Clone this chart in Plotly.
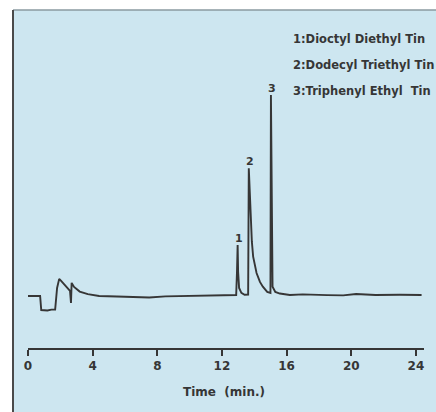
import plotly.graph_objects as go

# Chromatogram trace (time in minutes, detector response in % of peak 3)
time_min = [0.00, 0.75, 0.82, 1.20, 1.45, 1.68, 1.80, 1.93, 2.05, 2.60, 2.66, 2.70, 2.85,
            3.20, 3.70, 4.40, 5.50, 6.50, 7.50, 8.50, 10.0, 11.5, 12.88, 12.93, 12.97,
            13.00, 13.06, 13.20, 13.40, 13.62, 13.66, 13.72, 13.77, 13.85, 13.93, 14.14,
            14.35, 14.53, 14.80, 15.00, 15.03, 15.08, 15.13, 15.30, 15.58, 16.20, 17.0,
            18.5, 19.5, 20.3, 21.5, 23.0, 24.35]
signal = [0.0, 0.0, -7.0, -7.2, -6.8, -6.8, 4.0, 8.5, 7.5, 2.5, -3.5, 6.5, 4.5,
          2.2, 0.9, 0.0, -0.3, -0.4, -0.8, -0.2, 0.0, 0.3, 0.5, 12.0, 25.4,
          12.0, 4.0, 1.5, 0.6, 0.7, 63.5, 52.0, 37.8, 27.0, 19.6, 11.4,
          7.0, 4.6, 2.0, 1.5, 100.0, 30.0, 4.6, 2.0, 1.2, 0.5, 0.8,
          0.4, 0.3, 1.0, 0.5, 0.6, 0.5]

peak_labels = ["1", "2", "3"]
peak_times = [12.97, 13.66, 15.03]
peak_heights = [25.4, 63.5, 100.0]

legend_lines = ["1:Dioctyl Diethyl Tin", "2:Dodecyl Triethyl Tin", "3:Triphenyl Ethyl  Tin"]
tick_vals = [0, 4, 8, 12, 16, 20, 24]
tick_text = ["0", "4", "8", "12", "16", "20", "24"]

BG = "#cde6f0"
INK = "#363636"
FONT = "DejaVu Sans"

fig = go.Figure()
fig.add_trace(go.Scatter(x=time_min, y=signal, mode="lines",
                         line=dict(color=INK, width=1.9), hoverinfo="skip",
                         showlegend=False))

W, H = 436, 412
ml, mr, mt, mb = 28, 12, 10, 64
pw, ph = W - ml - mr, H - mt - mb

def px_to_paper_x(px):
    return (px - ml) / pw

def px_to_paper_y(py):
    return (H - mb - py) / ph

# blue panel behind the chart
fig.add_shape(type="rect", xref="paper", yref="paper",
              x0=px_to_paper_x(13), x1=px_to_paper_x(445),
              y0=px_to_paper_y(420), y1=px_to_paper_y(10),
              fillcolor=BG, line=dict(width=0), layer="below")
fig.add_shape(type="line", xref="paper", yref="paper",
              x0=px_to_paper_x(13), x1=px_to_paper_x(445),
              y0=px_to_paper_y(10), y1=px_to_paper_y(10),
              line=dict(color="#8a9aa0", width=1.5), layer="below")
fig.add_shape(type="line", xref="paper", yref="paper",
              x0=px_to_paper_x(13), x1=px_to_paper_x(13),
              y0=px_to_paper_y(10), y1=px_to_paper_y(420),
              line=dict(color="#4a4a4a", width=2), layer="below")

for lab, t, h in zip(peak_labels, peak_times, peak_heights):
    fig.add_annotation(x=t, y=h, xref="x", yref="y", text=f"<b>{lab}</b>",
                       showarrow=False, yanchor="bottom", yshift=-2, xshift=1,
                       font=dict(family=FONT, size=11, color=INK))

for i, line in enumerate(legend_lines):
    fig.add_annotation(x=px_to_paper_x(291), y=px_to_paper_y(38.5 + i * 26.3),
                       xref="paper", yref="paper", text=f"<b>{line}</b>",
                       showarrow=False, xanchor="left", yanchor="middle",
                       font=dict(family=FONT, size=11.5, color=INK))

fig.add_annotation(x=px_to_paper_x(224), y=px_to_paper_y(392), xref="paper", yref="paper",
                   text="<b>Time  (min.)</b>", showarrow=False,
                   xanchor="center", yanchor="middle",
                   font=dict(family=FONT, size=12, color=INK))

fig.update_layout(
    width=W, height=H,
    margin=dict(l=ml, r=mr, t=mt, b=mb, autoexpand=False),
    paper_bgcolor="white", plot_bgcolor="rgba(0,0,0,0)",
    showlegend=False,
    xaxis=dict(range=[0, 24.5], showgrid=False, zeroline=False, showline=True,
               linecolor=INK, linewidth=1.5, ticks="outside", ticklen=6,
               tickwidth=1.5, tickcolor=INK, tickvals=tick_vals, ticktext=tick_text,
               tickfont=dict(family=FONT, size=12, color=INK, weight="bold"),
               fixedrange=True),
    yaxis=dict(range=[-25.9, 142.3], visible=False, fixedrange=True),
)

fig.write_html("out.html", config={"displayModeBar": False},
               post_script="document.body.style.margin='0';document.body.style.overflow='hidden';")
